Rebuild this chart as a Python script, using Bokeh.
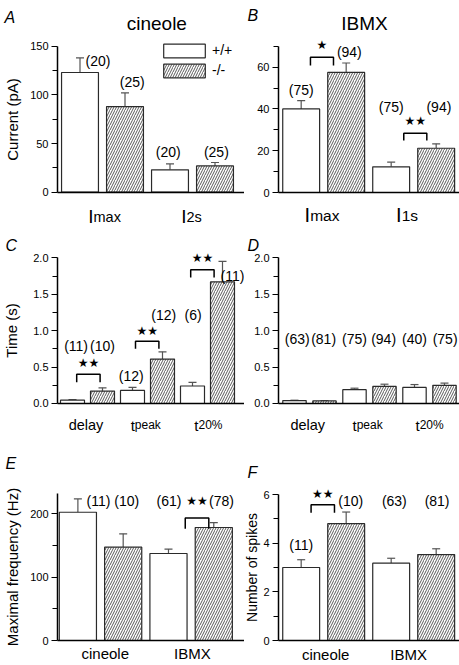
from bokeh.plotting import figure
from bokeh.models import (Range1d, FixedTicker, ColumnDataSource, Whisker, TeeHead,
                          Legend, LegendItem, PrintfTickFormatter, LinearAxis)
from bokeh.layouts import row, column
from bokeh.core.properties import value
from bokeh.embed import file_html
from bokeh.resources import INLINE

FONT = "Liberation Sans"
STARFONT = "DejaVu Sans"

# ---------------- data ----------------
# Panel A: cineole currents
a_cat_main = ["I", "I"]
a_cat_sub = ["max", "2s"]
a_wt = [123, 23]
a_wt_err = [15, 6]
a_ko = [88, 27]
a_ko_err = [14, 3.5]
a_n = ["(20)", "(25)", "(20)", "(25)"]

# Panel B: IBMX currents
b_cat_main = ["I", "I"]
b_cat_sub = ["max", "1s"]
b_wt = [40, 12.3]
b_wt_err = [4, 2.2]
b_ko = [57.5, 21.2]
b_ko_err = [4.5, 2.1]
b_n = ["(75)", "(94)", "(75)", "(94)"]
b_sig = ["★", "★★"]

# Panel C: cineole timing
c_cat_main = ["delay", "t", "t"]
c_cat_sub = ["", "peak", "20%"]
c_wt = [0.045, 0.18, 0.24]
c_wt_err = [0.01, 0.04, 0.05]
c_ko = [0.17, 0.61, 1.67]
c_ko_err = [0.045, 0.10, 0.28]
c_n = ["(11)", "(10)", "(12)", "(12)", "(6)", "(11)"]
c_sig = ["★★", "★★", "★★"]

# Panel D: IBMX timing
d_cat_main = ["delay", "t", "t"]
d_cat_sub = ["", "peak", "20%"]
d_wt = [0.04, 0.19, 0.22]
d_wt_err = [0.005, 0.02, 0.04]
d_ko = [0.035, 0.235, 0.25]
d_ko_err = [0.005, 0.03, 0.03]
d_n = ["(63)", "(81)", "(75)", "(94)", "(40)", "(75)"]

# Panel E: maximal frequency
e_cat_main = ["cineole", "IBMX"]
e_cat_sub = ["", ""]
e_wt = [202, 137]
e_wt_err = [21, 7]
e_ko = [147, 178]
e_ko_err = [21, 7.5]
e_n = ["(11)", "(10)", "(61)", "(78)"]
e_sig = ["★★"]

# Panel F: number of spikes
f_cat_main = ["cineole", "IBMX"]
f_cat_sub = ["", ""]
f_wt = [3.0, 3.18]
f_wt_err = [0.32, 0.2]
f_ko = [4.8, 3.53]
f_ko_err = [0.48, 0.24]
f_n = ["(11)", "(10)", "(63)", "(81)"]
f_sig = ["★★"]

BAR_LINE = "#2a2a2a"
ERR_COLOR = "#555555"


def txt(p, d, align, baseline, font=FONT, **kw):
    p.text(x="x", y="y", text="t", source=ColumnDataSource(d), text_font=value(font),
           text_align=align, text_baseline=baseline, text_color="black", **kw)


def make_panel(cfg):
    xr = cfg["xr"]
    ax_x = cfg["axis_x"]
    p = figure(width=cfg["width"], height=cfg["height"],
               x_range=Range1d(*xr), y_range=Range1d(*cfg["yr"]),
               x_axis_type=None, output_backend="svg", toolbar_location=None,
               min_border_left=0, min_border_right=0,
               min_border_top=0, min_border_bottom=0)
    p.outline_line_color = None
    p.ygrid.visible = False
    p.background_fill_color = "white"
    p.border_fill_color = "white"

    ax = p.yaxis[0]
    ax.fixed_location = ax_x
    ax.bounds = cfg["bounds"]
    ax.ticker = FixedTicker(ticks=cfg["ticks"], minor_ticks=cfg["minor"])
    if cfg.get("fmt"):
        ax.formatter = PrintfTickFormatter(format=cfg["fmt"])
    ax.axis_line_width = 1.5
    ax.axis_line_color = "black"
    ax.major_tick_out = 6
    ax.major_tick_in = 0
    ax.minor_tick_out = 5
    ax.minor_tick_in = 0
    ax.major_tick_line_width = 1.2
    ax.minor_tick_line_width = 1.2
    ax.major_tick_line_color = "black"
    ax.minor_tick_line_color = "black"
    ax.major_label_text_font = FONT
    ax.major_label_text_font_size = "11px"
    ax.major_label_text_color = "black"
    ax.major_label_standoff = 3
    if cfg.get("ylabel"):
        ax.axis_label = cfg["ylabel"]
        ax.axis_label_text_font = FONT
        ax.axis_label_text_font_size = cfg.get("ylabel_fs", "15px")
        ax.axis_label_text_font_style = "normal"
        ax.axis_label_text_color = "black"
        ax.axis_label_standoff = cfg["ylabel_standoff"]

    # baseline drawn as an x axis fixed at y = 0
    base = LinearAxis(fixed_location=0, bounds=(ax_x, xr[1]),
                      ticker=FixedTicker(ticks=[]), major_tick_out=0, major_tick_in=0,
                      minor_tick_out=0, minor_tick_in=0, major_label_text_font_size="0px",
                      axis_line_width=1.5, axis_line_color="black")
    p.add_layout(base, "below")

    wt, ko = cfg["wt"], cfg["ko"]
    wt_err, ko_err = cfg["wt_err"], cfg["ko_err"]
    ng = len(wt)
    x_wt = [2 * i for i in range(ng)]
    x_ko = [2 * i + 1 for i in range(ng)]

    xs_all, vals, errs = [], [], []
    for i in range(ng):
        xs_all += [x_wt[i], x_ko[i]]
        vals += [wt[i], ko[i]]
        errs += [wt_err[i], ko_err[i]]
    esrc = ColumnDataSource(dict(x=xs_all, lower=vals,
                                 upper=[v + e for v, e in zip(vals, errs)]))
    wh = Whisker(source=esrc, base="x", lower="lower", upper="upper",
                 dimension="height", line_color=ERR_COLOR, line_width=1.2,
                 lower_head=None,
                 upper_head=TeeHead(size=8, line_color=ERR_COLOR, line_width=1.2))
    wh.level = "underlay"
    p.add_layout(wh)

    r_wt = p.vbar(x=x_wt, top=wt, bottom=0, width=cfg["bar_w"],
                  fill_color="white", line_color=BAR_LINE, line_width=1.2)
    r_ko = p.vbar(x=x_ko, top=ko, bottom=0, width=cfg["bar_w"],
                  fill_color="white", line_color=BAR_LINE, line_width=1.2,
                  hatch_pattern="/", hatch_color="#303030", hatch_scale=5,
                  hatch_weight=0.8)

    # n labels
    txt(p, dict(x=[x + d for x, d in zip(xs_all, cfg["n_dx"])], y=cfg["n_y"], t=cfg["n"]),
        "center", "middle", text_font_size="14px")

    # significance brackets
    if cfg.get("sig"):
        c, h = cfg["sig_x"], cfg["sig_half"]
        top, low = cfg["sig_top"], cfg["sig_low"]
        bxs = [[ci - h, ci - h, ci + h, ci + h] for ci in c]
        bys = [[lo, t, t, lo] for t, lo in zip(top, low)]
        p.multi_line(xs=bxs, ys=bys, line_color="black", line_width=1.5)
        txt(p, dict(x=c, y=cfg["sig_y"], t=cfg["sig"]), "center", "middle",
            font=STARFONT, text_font_size="12px")

    # category labels
    gx = [2 * i + 0.5 for i in range(ng)]
    m_c = dict(x=[], y=[], t=[], dx=[], fs=[])
    m_r = dict(x=[], y=[], t=[], dx=[], fs=[])
    s_l = dict(x=[], y=[], t=[], dx=[], fs=[])
    for i in range(ng):
        main, sub, dx = cfg["cat_main"][i], cfg["cat_sub"][i], cfg["cat_dx"][i]
        if sub == "":
            targets = [(m_c, main, cfg["main_fs"][i])]
        else:
            targets = [(m_r, main, cfg["main_fs"][i]), (s_l, sub, cfg["sub_fs"][i])]
        for d, t, fs in targets:
            d["x"].append(gx[i]); d["y"].append(cfg["cat_y"]); d["t"].append(t)
            d["dx"].append(dx); d["fs"].append(fs)
    for d, align in [(m_c, "center"), (m_r, "right"), (s_l, "left")]:
        if d["x"]:
            txt(p, d, align, "alphabetic", x_offset="dx", text_font_size="fs")

    # panel letter and title
    lx, ly = cfg["letter_xy"]
    txt(p, dict(x=[lx], y=[ly], t=[cfg["letter"]]), "left", "alphabetic",
        text_font_size="16px", text_font_style="italic")
    if cfg.get("title"):
        tx, ty = cfg["title_xy"]
        txt(p, dict(x=[tx], y=[ty], t=[cfg["title"]]), "center", "alphabetic",
            text_font_size="19px")

    if cfg.get("legend"):
        leg = Legend(items=[LegendItem(label="+/+", renderers=[r_wt]),
                            LegendItem(label="-/-", renderers=[r_ko])],
                     location=cfg["legend_loc"], glyph_width=52, glyph_height=17,
                     label_height=17, label_standoff=2, spacing=3, padding=0,
                     margin=0, border_line_color=None, background_fill_alpha=0,
                     label_text_font=FONT, label_text_font_size="14px",
                     label_text_color="black")
        p.add_layout(leg)
    return p


WL, WR = 244, 215
H1, H2, H3 = 226, 214, 225

pA = make_panel(dict(
    width=WL, height=H1, axis_x=-0.5, xr=(-0.5 - 57 / 45, -0.5 + 187 / 45), yr=(-35.24, 196.95),
    bounds=(0, 150), ticks=[0, 50, 100, 150], minor=[25, 75, 125],
    ylabel="Current (pA)", ylabel_standoff=6,
    wt=a_wt, wt_err=a_wt_err, ko=a_ko, ko_err=a_ko_err, bar_w=0.82,
    n=a_n, n_dx=[0.4, 0.16, -0.04, 0.03], n_y=[135, 113, 41, 41],
    cat_main=a_cat_main, cat_sub=a_cat_sub, cat_dx=[-9, -6], cat_y=-25,
    main_fs=["19px", "19px"], sub_fs=["14.5px", "14.5px"],
    letter="A", letter_xy=(-1.678, 179.5), title="cineole", title_xy=(1.707, 173.3),
    legend=True, legend_loc=(158, 147.5)))

pB = make_panel(dict(
    width=WR, height=H1, axis_x=-0.504, xr=(-0.504 - 34 / 45, -0.504 + 181 / 45), yr=(-16.28, 91.94),
    bounds=(0, 70), ticks=[0, 20, 40, 60], minor=[10, 30, 50, 70],
    wt=b_wt, wt_err=b_wt_err, ko=b_ko, ko_err=b_ko_err, bar_w=0.82,
    n=b_n, n_dx=[0, 0.07, 0, 0.06], n_y=[49.2, 67.2, 40.9, 40.9],
    sig=b_sig, sig_x=[0.462, 2.536], sig_half=0.256, sig_top=[64.8, 28.4],
    sig_low=[60.8, 24.9], sig_y=[70.4, 34],
    cat_main=b_cat_main, cat_sub=b_cat_sub, cat_dx=[-13.5, -12], cat_y=-11,
    main_fs=["20px", "20px"], sub_fs=["15.5px", "15.5px"],
    letter="B", letter_xy=(-1.193, 84.76), title="IBMX", title_xy=(1.407, 80.8)))

pC = make_panel(dict(
    width=WL, height=H2, axis_x=-0.5, xr=(-0.5 - 57 / 30, -0.5 + 187 / 30), yr=(-0.508, 2.43),
    bounds=(0, 2), ticks=[0, 0.5, 1, 1.5, 2], minor=[0.25, 0.75, 1.25, 1.75], fmt="%.1f",
    ylabel="Time (s)", ylabel_standoff=10,
    wt=c_wt, wt_err=c_wt_err, ko=c_ko, ko_err=c_ko_err, bar_w=0.8,
    n=c_n, n_dx=[0.12, 0, -0.04, 0.04, 0.02, 0.33],
    n_y=[0.796, 0.796, 0.384, 1.217, 1.217, 1.757],
    sig=c_sig, sig_x=[0.53, 2.49, 4.33], sig_half=0.39, sig_top=[0.40, 0.855, 1.835],
    sig_low=[0.29, 0.75, 1.73], sig_y=[0.55, 1.0, 1.995],
    cat_main=c_cat_main, cat_sub=c_cat_sub, cat_dx=[-1.5, -12.7, -9], cat_y=-0.30,
    main_fs=["14.5px", "15px", "15px"], sub_fs=["12px", "12px", "12px"],
    letter="C", letter_xy=(-2.233, 2.169)))

pD = make_panel(dict(
    width=WR, height=H2, axis_x=-0.533, xr=(-0.533 - 34 / 30, -0.533 + 181 / 30), yr=(-0.508, 2.43),
    bounds=(0, 2), ticks=[0, 0.5, 1, 1.5, 2], minor=[0.25, 0.75, 1.25, 1.75], fmt="%.1f",
    wt=d_wt, wt_err=d_wt_err, ko=d_ko, ko_err=d_ko_err, bar_w=0.78,
    n=d_n, n_dx=[0.09, -0.03, 0, -0.03, 0, 0.02], n_y=[0.888] * 6,
    cat_main=d_cat_main, cat_sub=d_cat_sub, cat_dx=[-1.7, -12.8, -9.8], cat_y=-0.30,
    main_fs=["14.5px", "15px", "15px"], sub_fs=["12px", "12px", "12px"],
    letter="D", letter_xy=(-1.567, 2.169)))

pE = make_panel(dict(
    width=WL, height=H3, axis_x=-0.45, xr=(-0.45 - 57 / 45.3, -0.45 + 187 / 45.3), yr=(-39.37, 315),
    bounds=(0, 231), ticks=[0, 100, 200], minor=[50, 150],
    ylabel="Maximal frequency (Hz)", ylabel_standoff=6,
    wt=e_wt, wt_err=e_wt_err, ko=e_ko, ko_err=e_ko_err, bar_w=0.82,
    n=e_n, n_dx=[0.455, 0.08, 0.01, 0.17], n_y=[219] * 4,
    sig=e_sig, sig_x=[2.63], sig_half=0.26, sig_top=[193], sig_low=[176], sig_y=[219],
    cat_main=e_cat_main, cat_sub=e_cat_sub, cat_dx=[4.7, 1.3], cat_y=-20.9,
    main_fs=["15px", "15px"], sub_fs=["15px", "15px"],
    letter="E", letter_xy=(-1.598, 278)))

pF = make_panel(dict(
    width=WR, height=H3, axis_x=-0.504, xr=(-0.504 - 34 / 45, -0.504 + 181 / 45), yr=(-1.0275, 8.22),
    bounds=(0, 6), ticks=[0, 2, 4, 6], minor=[1, 3, 5],
    ylabel="Number of spikes", ylabel_standoff=0, ylabel_fs="14px",
    wt=f_wt, wt_err=f_wt_err, ko=f_ko, ko_err=f_ko_err, bar_w=0.82,
    n=f_n, n_dx=[0, 0.1, 0.07, 0.02], n_y=[3.93, 5.75, 5.75, 5.75],
    sig=f_sig, sig_x=[0.48], sig_half=0.26, sig_top=[5.58], sig_low=[5.25], sig_y=[6.03],
    cat_main=f_cat_main, cat_sub=f_cat_sub, cat_dx=[2, -5], cat_y=-0.56,
    main_fs=["15px", "15px"], sub_fs=["15px", "15px"],
    letter="F", letter_xy=(-1.193, 6.92)))

layout = column(row(pA, pB), row(pC, pD), row(pE, pF))
open("out.html", "w").write(file_html(layout, INLINE))
